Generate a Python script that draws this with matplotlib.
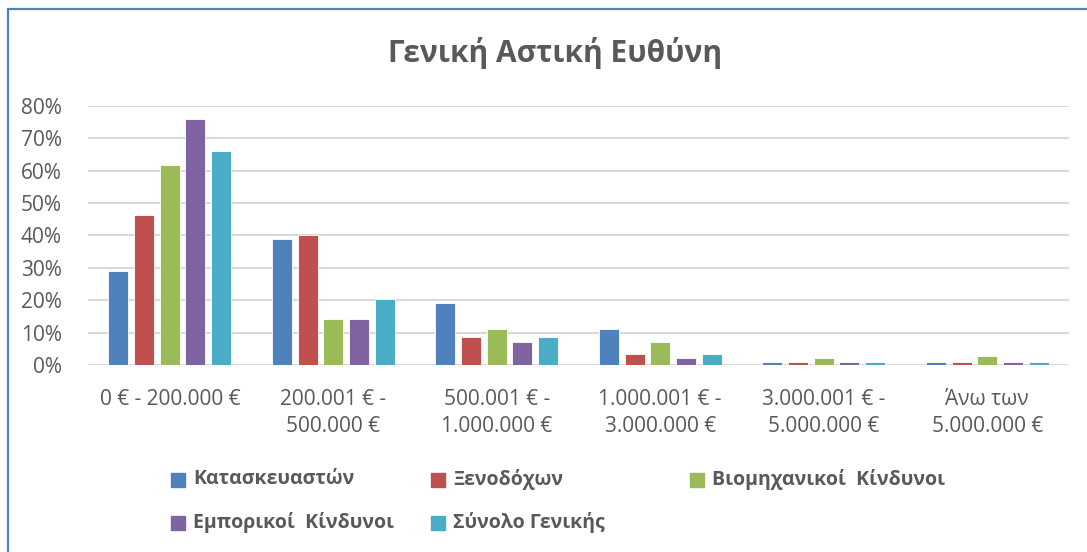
import numpy as np
import matplotlib
matplotlib.use("Agg")
from matplotlib import pyplot as plt
from matplotlib.patches import Rectangle

plt.rcParams['font.family'] = ['Open Sans', 'DejaVu Sans']

categories = ['0 € - 200.000 €', '200.001 € -\n500.000 €', '500.001 € -\n1.000.000 €',
              '1.000.001 € -\n3.000.000 €', '3.000.001 € -\n5.000.000 €', 'Άνω των\n5.000.000 €']
series_names = ['Κατασκευαστών', 'Ξενοδόχων', 'Βιομηχανικοί  Κίνδυνοι',
                'Εμπορικοί  Κίνδυνοι', 'Σύνολο Γενικής']
kataskevaston = [0.291, 0.389, 0.192, 0.112, 0.009, 0.009]
xenodoxon = [0.463, 0.402, 0.087, 0.033, 0.009, 0.009]
viomixanikoi = [0.616, 0.143, 0.112, 0.070, 0.021, 0.027]
emporikoi = [0.758, 0.143, 0.070, 0.021, 0.009, 0.009]
synolo = [0.660, 0.205, 0.087, 0.033, 0.009, 0.009]
colors = ['#4F81BD', '#C0504D', '#9BBB59', '#8064A2', '#4BACC6']

data = [kataskevaston, xenodoxon, viomixanikoi, emporikoi, synolo]
grey = '#595959'

fig = plt.figure(figsize=(10.87, 5.52), dpi=100)
W, H = 1087, 552
ax = fig.add_axes([88 / W, (H - 365) / H, 981 / W, (365 - 105.7) / H])

x = np.arange(len(categories))
pitch = 0.157
width = 0.122
for i, (vals, c) in enumerate(zip(data, colors)):
    ax.bar(x + (i - 2) * pitch, vals, width, color=c, edgecolor='white', linewidth=0.6, zorder=3)

ax.set_xlim(-0.5, len(categories) - 0.5)
ax.set_ylim(0, 0.8)
ax.set_yticks(np.arange(0, 0.81, 0.1))
ax.set_yticklabels(['%d%%' % round(v * 100) for v in np.arange(0, 0.81, 0.1)])
ax.yaxis.grid(True, color='#D9D9D9', linewidth=1.5, zorder=0)
ax.set_axisbelow(True)
for s in ax.spines.values():
    s.set_visible(False)
ax.tick_params(axis='y', length=0, pad=19, labelsize=15, labelcolor=grey)
ax.set_xticks(x)
ax.set_xticklabels(categories, linespacing=1.4)
ax.tick_params(axis='x', length=0, pad=17, labelsize=15, labelcolor=grey)

fig.text(555 / W, 1 - 53 / H, 'Γενική Αστική Ευθύνη', ha='center', va='center',
         fontsize=21.5, fontweight='bold', color=grey)

# legend
leg_pos = [(171, 479.5), (431, 479.5), (690, 479.5), (171, 522.5), (431, 522.5)]
for (lx, ly), name, c in zip(leg_pos, series_names, colors):
    fig.patches.append(Rectangle((lx / W, 1 - (ly + 7) / H), 14 / W, 14 / H,
                                 transform=fig.transFigure, color=c))
    fig.text((lx + 22) / W, 1 - ly / H, name, ha='left', va='center',
             fontsize=14, fontweight='bold', color=grey)

# chart border
fig.patches.append(Rectangle((8 / W, -0.05), 1.1, 1 - 9 / H + 0.05, transform=fig.transFigure,
                             fill=False, edgecolor='#4F81BD', linewidth=1.6))

fig.savefig('out.png', dpi=100, facecolor='white')
